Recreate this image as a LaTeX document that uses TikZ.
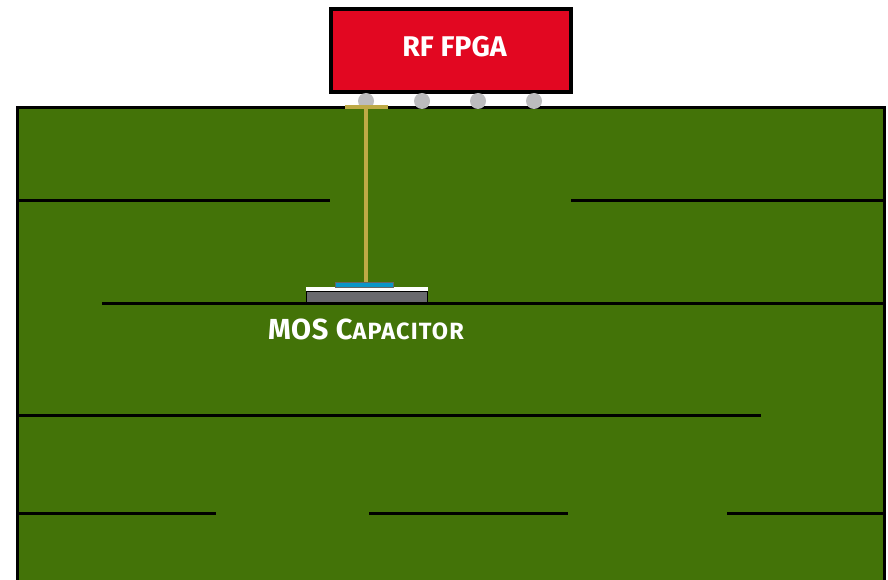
\documentclass[tikz,border=0pt]{standalone}
\usepackage{fontspec}
\setmainfont{Fira Sans}
\usetikzlibrary{positioning}
\definecolor{boardgreen}{RGB}{67,115,8}
\definecolor{fpgared}{RGB}{226,7,33}
\definecolor{viagold}{RGB}{190,170,70}
\definecolor{padgray}{RGB}{188,188,190}
\definecolor{oxideblue}{RGB}{10,150,200}
\definecolor{siliconcolor}{RGB}{105,105,110}
\tikzset{
  trace/.style={black,line width=3.4pt},
  ball/.style={circle,fill=padgray,inner sep=0pt,minimum size=16pt},
  layer/.style={inner sep=0pt,outer sep=0pt},
  label/.style={font=\bfseries,text=white,inner sep=0pt}
}
\begin{document}
\begin{tikzpicture}[x=1pt,y=-1pt,line cap=butt]
  \useasboundingbox (0,0) rectangle (888,580);
  % board
  \path[fill=boardgreen] (17,107) rectangle (885,580);
  \draw[trace] (17.5,580) -- (17.5,107.5) -- (884.5,107.5) -- (884.5,580);
  % inner planes
  \draw[trace] (17,200.3) -- (330,200.3);
  \draw[trace] (571,200.3) -- (885,200.3);
  \draw[trace] (102,303.3) -- (885,303.3);
  \draw[trace] (17,415.3) -- (761,415.3);
  \draw[trace] (17,513.3) -- (216,513.3);
  \draw[trace] (369,513.3) -- (568,513.3);
  \draw[trace] (727,513.3) -- (885,513.3);
  % chip and solder balls
  \node[draw=black,line width=3.4pt,fill=fpgared,minimum width=240pt,minimum height=83pt,outer sep=0pt,inner sep=0pt] (fpga) at (451,50.5) {};
  \node[label,font=\bfseries\fontsize{28.5}{28.5}\selectfont] (fpgalabel) at (454.5,47) {RF FPGA};
  \foreach \x/\n in {366/a,422/b,478/c,534/d} \node[ball] (ball\n) at (\x,101) {};
  % MOS capacitor stack
  \node[layer,fill=siliconcolor,draw=black,line width=0.6pt,minimum width=121pt,minimum height=11pt] (silicon) at (366.5,296.5) {};
  \node[layer,fill=white,minimum width=122pt,minimum height=4pt,above=0pt of silicon] (oxide) {};
  \node[layer,fill=oxideblue,draw=black!60,line width=0.3pt,minimum width=58pt,minimum height=5pt,above=0.3pt of oxide,xshift=-2.5pt] (gate) {};
  % via
  \node[layer,fill=viagold,minimum width=43pt,minimum height=4pt] (viapad) at (366,107) {};
  \draw[viagold,line width=4pt] (viapad.center) -- (viapad.center |- gate.north);
  \node[label,below=16.5pt of silicon,xshift=-0.5pt] (caplabel) {\fontsize{29}{29}\selectfont\addfontfeature{LetterSpace=2} MOS C\fontsize{23.5}{23.5}\selectfont\addfontfeature{LetterSpace=5}APACITOR};
\end{tikzpicture}
\end{document}
